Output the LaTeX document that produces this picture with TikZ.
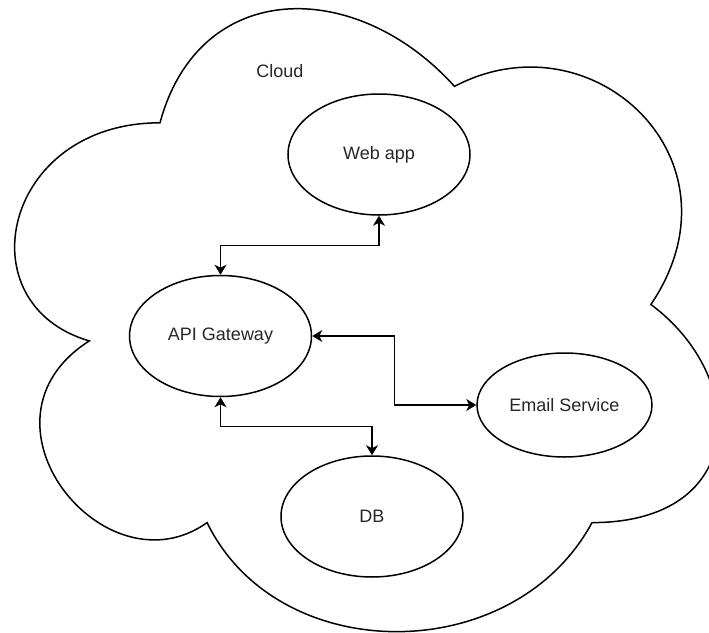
\documentclass[tikz,border=0pt]{standalone}
\usepackage{fontspec}
\setmainfont{Liberation Sans}
\usepackage{tikz}
\usetikzlibrary{shapes.geometric,positioning,calc,arrows.meta}
\tikzset{
  lbl/.style={font=\fontsize{9}{11}\selectfont,text=black!85},
  svc/.style={ellipse,draw=black,line width=0.75pt,
    minimum width=91pt,minimum height=60.5pt,inner sep=0pt,lbl},
  mailsvc/.style={svc,minimum width=87.5pt,minimum height=52pt},
  tip/.style={Stealth[length=5pt,width=6pt,inset=1.5pt]},
  dual/.style={{Stealth[length=5pt,width=6pt,inset=1.5pt]}-{Stealth[length=5pt,width=6pt,inset=1.5pt]},
    line width=0.75pt,draw=black},
  cloudline/.style={line width=0.75pt,draw=black}
}

\begin{document}
\begin{tikzpicture}[x=0.5pt,y=-0.5pt]
  \useasboundingbox (0,0) rectangle (709,633);

  % cloud outline
  \begin{scope}
    \clip (0,0) rectangle (709,633);
    \draw[cloudline] (160,122.8)
      .. controls (2.9,122.8) and (-36.4,304.5) .. (89.3,340.9)
      .. controls (-36.4,420.8) and (105,595.3) .. (207.1,522.6)
      .. controls (277.8,668) and (513.5,668) .. (592,522.6)
      .. controls (749.1,522.6) and (749.1,377.2) .. (650.9,304.5)
      .. controls (749.1,159.1) and (592,13.7) .. (454.5,86.4)
      .. controls (356.4,-22.65) and (199.3,-22.65) .. (160,122.8) -- cycle;
  \end{scope}
  \node[lbl] (cloudlbl) at (280,71) {Cloud};

  \node[svc] (web) at (379,154.5) {Web app};
  \node[svc] (api) at (220.5,336) {API Gateway};
  \node[mailsvc] (mail) at (564.5,405) {Email Service};
  \node[svc] (db) at (372,516.5) {DB};

  \draw[dual] (api.north) |- ($(api.north)!0.5!(web.south)$) -| (web.south);
  \draw[dual] (api.east) -| ($(api.east)!0.5!(mail.west)$) |- (mail.west);
  \draw[dual] (api.south) |- ($(api.south)!0.5!(db.north)$) -| (db.north);
\end{tikzpicture}
\end{document}
